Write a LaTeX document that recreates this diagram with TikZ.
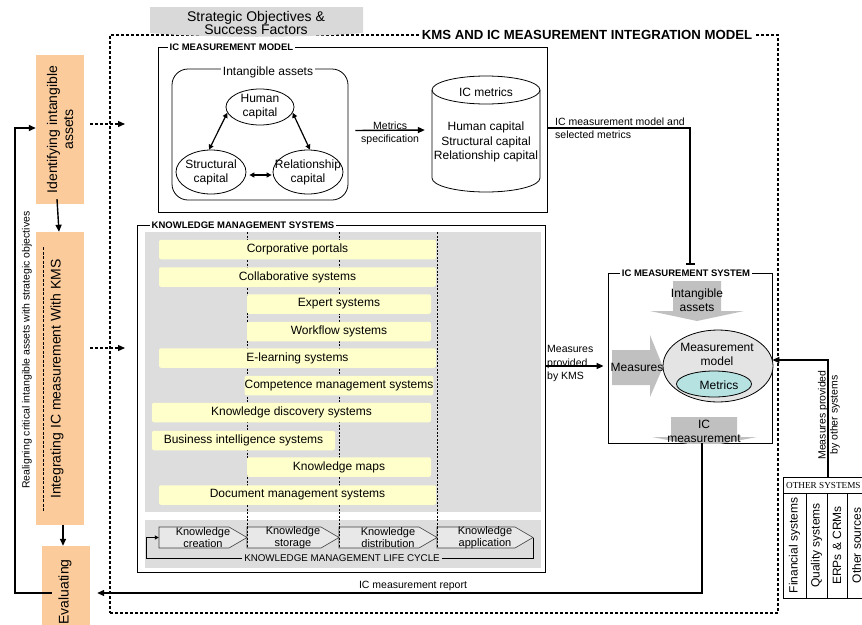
\documentclass[tikz,border=0pt]{standalone}
\usepackage{fontspec}
\setmainfont{Liberation Sans}
\newfontfamily\serifos{Liberation Serif}
\usetikzlibrary{arrows.meta,shapes.geometric}
\definecolor{orng}{RGB}{251,203,155}
\definecolor{panel}{RGB}{221,221,221}
\definecolor{ylw}{RGB}{255,255,204}
\definecolor{cyn}{RGB}{183,226,226}
\definecolor{garrow}{RGB}{192,192,192}
\definecolor{lcfill}{RGB}{232,232,232}
\definecolor{bannergray}{RGB}{217,217,217}
\definecolor{ellgray}{RGB}{228,228,228}
\newcommand\fz[2]{\fontsize{#1}{#2}\selectfont}
\begin{document}
\begin{tikzpicture}[x=1pt,y=-1pt,
  conn/.style={line width=1.4pt,-{Triangle[length=7pt,width=6pt]}},
  bx/.style={draw,line width=0.8pt,inner sep=0},
  ttl/.style={fill=white,inner sep=1.5pt,font=\bfseries\fz{9.5}{11}},
  txt/.style={font=\fz{12}{14},align=center,inner sep=0},
  sml/.style={font=\fz{10.5}{13},inner sep=0},
  ybar/.style={fill=ylw,rounded corners=2pt,minimum height=19.5pt,inner sep=0,font=\fz{12}{13}},
  stepbox/.style={fill=orng,inner sep=0},
  el/.style={draw,ellipse,line width=0.8pt,inner sep=0},
  lct/.style={inner sep=0,align=center,font=\fz{11}{11.5},minimum height=21pt},
  dasharr/.style={line width=1.3pt,dash pattern=on 3pt off 2pt,-{Triangle[length=7pt,width=6pt]}},
]
\useasboundingbox (0,0) rectangle (862,624);

% outer dashed frame
\node[draw,line width=1.3pt,dash pattern=on 3pt off 2pt,minimum width=668pt,minimum height=578pt,inner sep=0] (outer) at (444,324) {};
\node[fill=white,inner sep=3pt,font=\bfseries\fz{13.2}{14}] (otitle) at (587,35) {KMS AND IC MEASUREMENT INTEGRATION MODEL};

% banner
\fill[bannergray] (150,7) -- (363,7) -- (363,33) .. controls (300,38) and (213,38) .. (150,33) -- cycle;
\node[font=\fz{14}{12},align=center,inner sep=0] (strat) at (256,23) {Strategic Objectives \&\\Success Factors};

% IC measurement model
\node[bx,minimum width=389pt,minimum height=165pt] (icmm) at (352.5,129.5) {};
\node[ttl,anchor=west] at (168,47) {IC MEASUREMENT MODEL};
\node[bx,rounded corners=16pt,minimum width=176pt,minimum height=131pt] (ia) at (260,134.5) {};
\node[fill=white,inner sep=2pt,font=\fz{12}{13}] (iat) at (268,72) {Intangible assets};
\node[el,minimum width=68pt,minimum height=36pt] (hum) at (260,107) {};
\node[txt] at (hum) {Human\\capital};
\node[el,minimum width=70pt,minimum height=44pt] (str) at (211,172) {};
\node[txt] at (str) {Structural\\capital};
\node[el,minimum width=70pt,minimum height=44pt] (rel) at (308,172) {};
\node[txt] at (rel) {Relationship\\capital};
\draw[line width=1.2pt,{Triangle[length=5pt,width=5pt]}-{Triangle[length=5pt,width=5pt]}] (hum.190) -- (str.95);
\draw[line width=1.2pt,{Triangle[length=5pt,width=5pt]}-{Triangle[length=5pt,width=5pt]}] (hum.-10) -- (rel.85);
\draw[line width=1.2pt,{Triangle[length=5pt,width=5pt]}-{Triangle[length=5pt,width=5pt]}] ([xshift=3pt,yshift=-3pt]str.east) -- ([xshift=-1pt,yshift=-3pt]rel.west);

% cylinder
\node[minimum width=108pt,minimum height=117pt,inner sep=0] (icm) at (486,134) {};
\draw[line width=0.8pt,fill=white] (432,90) -- (432,178) arc[start angle=180,end angle=360,x radius=54pt,y radius=14pt] -- (540,90);
\draw[line width=0.8pt] (486,90) ellipse[x radius=54pt,y radius=14pt];
\node[txt] at (486,92) {IC metrics};
\node[txt,font=\fz{12}{14.5}] at (486,142) {Human capital\\Structural capital\\Relationship capital};

\draw[conn] ([xshift=7pt,yshift=4pt]ia.east) -- ([xshift=-7pt,yshift=4pt]icm.west)
  node[midway,sml,align=center,yshift=-3pt] {Metrics\\specification};

% IC measurement system
\node[bx,minimum width=164pt,minimum height=170pt] (icms) at (690,358) {};
\node[ttl] at (686,273) {IC MEASUREMENT SYSTEM};
\draw[line width=1.4pt,-{Bar[width=9pt]}] ([yshift=1.5pt]icmm.east) -| ([yshift=8pt]icms.north);
\node[sml,anchor=west,align=left] at (555,128.5) {IC measurement model and\\selected metrics};

\fill[garrow] (673,281) -- (721,281) -- (721,311) -- (744,311) -- (697,321) -- (650,311) -- (673,311) -- cycle;
\node[txt] at (697,300) {Intangible\\assets};
\fill[garrow] (612,350) -- (650,350) -- (650,335) -- (663,367) -- (650,397) -- (650,385) -- (612,385) -- cycle;
\begin{scope}
\clip (608,273) rectangle (772,443);
\fill[garrow] (671,417) -- (737,417) -- (737,437) -- (757,437) -- (704,447) -- (652,437) -- (671,437) -- cycle;
\end{scope}
\node[txt] at (704,431) {IC\\measurement};
\node[el,fill=ellgray,minimum width=110pt,minimum height=72pt] (mm) at (718,366) {};
\node[txt] at (637,367) {Measures};
\node[txt] at (717,354.5) {Measurement\\model};
\node[el,fill=cyn,minimum width=75pt,minimum height=26pt] (met) at (714,384) {};
\node[txt] at (719,385) {Metrics};

% KMS
\node[bx,minimum width=408pt,minimum height=347pt] (kmsb) at (341,398.5) {};
\fill[panel] (145,232) rectangle (541,512);
\fill[panel] (145,520) rectangle (541,568);
\node[ttl,anchor=west] at (150,225) {KNOWLEDGE MANAGEMENT SYSTEMS};
\foreach \x in {247,339,437} \draw[line width=0.8pt,dash pattern=on 2pt off 1.5pt] (\x,232) -- (\x,540);

\node[ybar,minimum width=277pt] (b1) at (297.5,249.5) {Corporative portals};
\node[ybar,minimum width=277pt] (b2) at (297.5,277) {Collaborative systems};
\node[ybar,minimum width=184pt] (b3) at (339,304) {Expert systems};
\node[ybar,minimum width=184pt] (b4) at (339,331.5) {Workflow systems};
\node[ybar,minimum width=277pt] (b5) at (297.5,358) {E-learning systems};
\node[ybar,minimum width=184pt] (b6) at (339,385.5) {Competence management systems};
\node[ybar,minimum width=279pt] (b7) at (291.5,412.5) {Knowledge discovery systems};
\node[ybar,minimum width=183pt] (b8) at (243.5,440.5) {Business intelligence systems};
\node[ybar,minimum width=184pt] (b9) at (339,467) {Knowledge maps};
\node[ybar,minimum width=277pt] (b10) at (297.5,495) {Document management systems};

% life cycle
\foreach \a/\b in {159/247,247/339,339/437,437/533}
  \filldraw[fill=lcfill,draw=black!75,line width=0.6pt] (\a,527) -- (\b-18,527) -- (\b,537.5) -- (\b-18,548) -- (\a,548) -- cycle;
\foreach \x in {247,339,437} \draw[line width=0.8pt,dash pattern=on 2pt off 1.5pt] (\x,527) -- (\x,548);
\node[lct,minimum width=88pt] (kc) at (203,537.5) {Knowledge\\creation};
\node[lct,minimum width=92pt] (ks) at (293,537.5) {Knowledge\\storage};
\node[lct,minimum width=98pt] (kd) at (388,537.5) {Knowledge\\distribution};
\node[lct,minimum width=96pt] (ka) at (485,537.5) {Knowledge\\application};
\draw[line width=1.1pt,-{Triangle[length=4pt,width=4pt]}] (ka.east) -- ++(0,-21pt) -| ([xshift=-12pt]kc.west) -- (kc.west);
\node[fill=panel,inner sep=2pt,font=\fz{9.8}{11}] at (342,558.5) {KNOWLEDGE MANAGEMENT LIFE CYCLE};

% measures provided by KMS
\draw[conn] (kmsb.east |- mm.center) -- ([xshift=-4pt]icms.west |- mm.center);
\node[sml,anchor=west,align=left,font=\fz{10.5}{13.5}] at (547,363.5) {Measures\\provided\\by KMS};

% other systems
\node[draw,line width=0.7pt,minimum width=83pt,minimum height=16pt,inner sep=0] (hdr) at (824.5,485) {};
\node[anchor=west,inner sep=0,font=\serifos\fz{9.2}{11}] at (786,485.5) {OTHER SYSTEMS};
\node[draw,line width=0.7pt,rotate=90,minimum width=105pt,minimum height=23pt,inner sep=0,font=\fz{12}{13}] (os1) at (794.5,545.5) {Financial systems};
\node[draw,line width=0.7pt,rotate=90,minimum width=105pt,minimum height=21pt,inner sep=0,font=\fz{12}{13}] (os2) at (816.5,545.5) {Quality systems};
\node[draw,line width=0.7pt,rotate=90,minimum width=105pt,minimum height=20pt,inner sep=0,font=\fz{12}{13}] (os3) at (837,545.5) {ERPs \& CRMs};
\node[draw,line width=0.7pt,rotate=90,minimum width=105pt,minimum height=19pt,inner sep=0,font=\fz{12}{13}] (os4) at (856.5,545.5) {Other sources};
\draw[conn] ([xshift=3.5pt]hdr.north) |- ([yshift=-2pt]icms.east);
\node[rotate=90,align=center,inner sep=0,font=\fz{10.5}{12}] at (829,415) {Measures provided\\by other systems};

% report
\node[stepbox,minimum width=48pt,minimum height=88pt] (eval) at (66,590) {};
\draw[conn] ([xshift=12pt]icms.south) |- ([xshift=7pt,yshift=-3pt]eval.east);
\node[sml] at (413,586) {IC measurement report};

% left column
\node[stepbox,minimum width=48pt,minimum height=149pt] (ident) at (60,129.5) {};
\node[rotate=90,align=center,inner sep=0,font=\fz{14}{16}] at (60,129.5) {Identifying intangible\\assets};
\node[stepbox,minimum width=48pt,minimum height=293pt] (integ) at (60,378.5) {};
\node[rotate=90,inner sep=0,font=\fz{14}{16}] at (57,379) {Integrating IC measurement With KMS};
\draw[line width=0.6pt,dash pattern=on 3pt off 1.5pt] (43,247) -- (43,512);
\node[rotate=90,inner sep=0,font=\fz{14}{16}] at (65,592) {Evaluating};

\draw[conn] ([xshift=-3pt,yshift=5pt]ident.south) -- ([xshift=-1pt]integ.north);
\draw[conn] ([xshift=3pt]integ.south) -- ([xshift=-3pt]eval.north);
\draw[conn] ([xshift=10pt,yshift=-3pt]eval.west) -- ++(-37pt,0) |- ([yshift=1.5pt]ident.west);
\node[rotate=90,inner sep=0,font=\fz{10.5}{12}] at (27,350) {Realigning critical intangible assets with strategic objectives};

\coordinate (d1) at (125,124);
\coordinate (d2) at (125,348);
\draw[dasharr] (ident.east |- d1) ++(6pt,0) -- (d1);
\draw[dasharr] (integ.east |- d2) ++(6pt,0) -- (d2);
\end{tikzpicture}
\end{document}
